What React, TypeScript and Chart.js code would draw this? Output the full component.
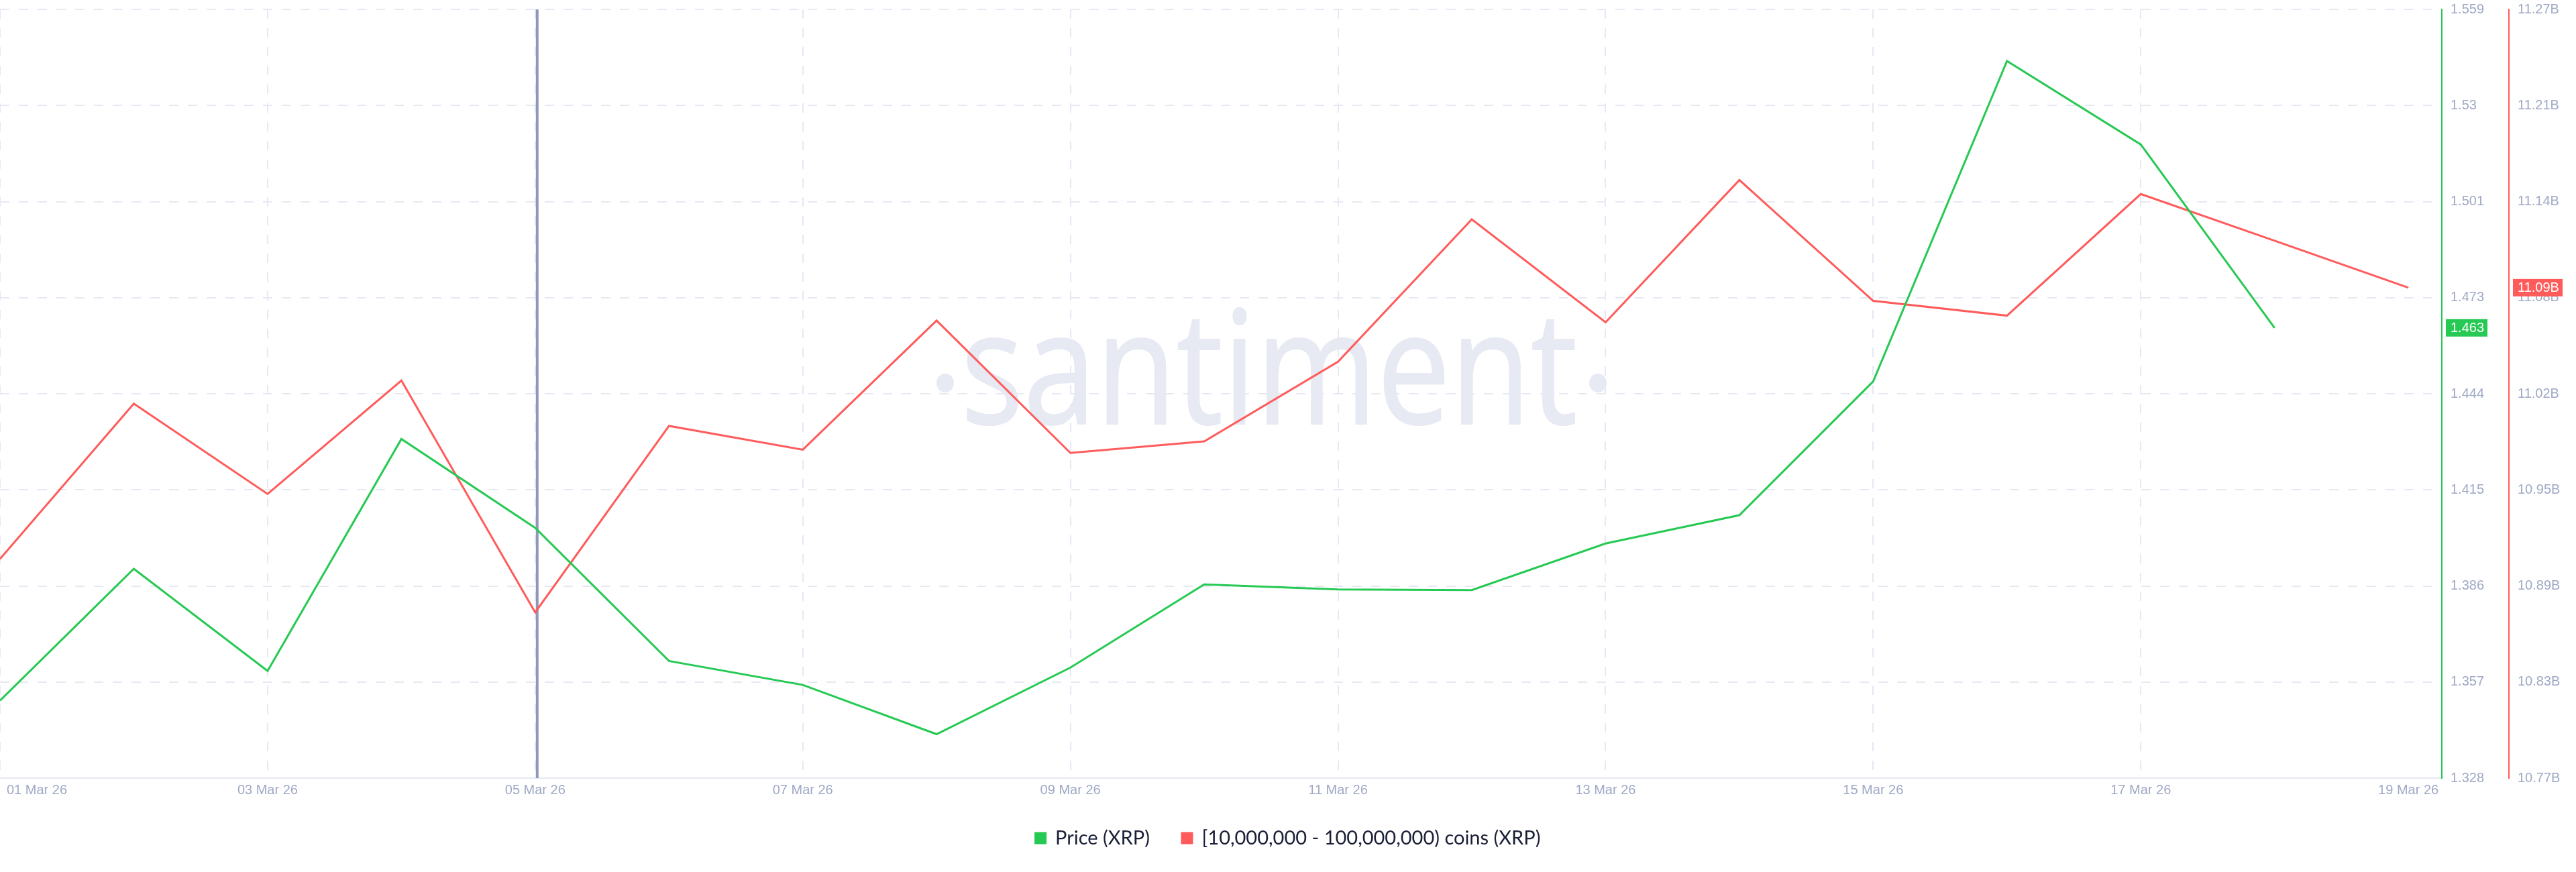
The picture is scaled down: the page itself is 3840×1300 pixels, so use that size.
import { useEffect, useRef } from "react";
import { Chart, registerables } from "chart.js";

Chart.register(...registerables);

const priceValues = [
  1.3513, 1.3909, 1.3602, 1.4299, 1.4032, 1.3632, 1.356, 1.3412, 1.3612, 1.3862, 1.3847, 1.3845, 1.3985, 1.407,
  1.4472, 1.5435, 1.5184, 1.4633,
];
const holdersValues = [
  10.9125, 11.0136, 10.9548, 11.0286, 10.8778, 10.9991, 10.9836, 11.0676, 10.9815, 10.989, 11.0408, 11.1334, 11.0665,
  11.159, 11.0804, 11.0708, 11.1499, 11.1195, 11.089,
];
const dateLabels = [
  "01 Mar 26", "03 Mar 26", "05 Mar 26", "07 Mar 26", "09 Mar 26", "11 Mar 26", "13 Mar 26", "15 Mar 26", "17 Mar 26", "19 Mar 26",
];
const priceTicks = ["1.328", "1.357", "1.386", "1.415", "1.444", "1.473", "1.501", "1.53", "1.559"];
const holdersTicks = ["10.77B", "10.83B", "10.89B", "10.95B", "11.02B", "11.08B", "11.14B", "11.21B", "11.27B"];
const markerDay = 4.015;

const GREEN = "#26c953";
const RED = "#ff5b5b";
const GRID = "#e6e9f3";
const MUTED = "#9fa9c5";
const TICK_FONT = { family: "'Liberation Sans', Arial, sans-serif", size: 20 };

const decorations = {
  id: "decorations",
  beforeDraw(chart: any) {
    const { ctx } = chart;
    // watermark, squeezed like the logo
    ctx.save();
    ctx.fillStyle = "#e7e9f3";
    ctx.strokeStyle = "#e7e9f3";
    ctx.lineWidth = 2;
    ctx.beginPath();
    ctx.ellipse(1409, 571, 13, 14, 0, 0, Math.PI * 2);
    ctx.ellipse(2382, 571, 13, 14, 0, 0, Math.PI * 2);
    ctx.fill();
    ctx.font = "235px 'Open Sans'";
    ctx.textAlign = "center";
    ctx.textBaseline = "alphabetic";
    ctx.translate(1892, 632);
    ctx.scale(0.83, 1);
    ctx.fillText("santiment", 0, 0);
    ctx.strokeText("santiment", 0, 0);
    ctx.restore();
  },
  afterDraw(chart: any) {
    const { ctx, scales } = chart;
    ctx.save();
    ctx.font = "20px 'Liberation Sans'";
    ctx.textBaseline = "middle";

    // date labels, the first and last are kept inside the canvas edges
    ctx.fillStyle = MUTED;
    ctx.textAlign = "center";
    dateLabels.forEach((label, i) => {
      const x = Math.min(Math.max(scales.x.getPixelForValue(i * 2), 55), 3630);
      ctx.fillText(label, x, 1178);
    });

    // last value badges
    ctx.textAlign = "left";
    const badges = [
      { axis: scales.price, value: priceValues[priceValues.length - 1], text: "1.463", color: GREEN, w: 62 },
      { axis: scales.holders, value: holdersValues[holdersValues.length - 1], text: "11.09B", color: RED, w: 74 },
    ];
    for (const b of badges) {
      const y = b.axis.getPixelForValue(b.value);
      ctx.fillStyle = b.color;
      ctx.fillRect(b.axis.left + 6, y - 13, b.w, 26);
      ctx.fillStyle = "#fff";
      ctx.fillText(b.text, b.axis.left + 13, y + 1);
    }
    ctx.restore();
  },
};

export default function App() {
  const canvasRef = useRef<HTMLCanvasElement>(null);

  useEffect(() => {
    const chart = new Chart(canvasRef.current!, {
      type: "line",
      plugins: [decorations],
      data: {
        datasets: [
          {
            label: "Price (XRP)",
            data: priceValues.map((y, i) => ({ x: i, y })),
            borderColor: GREEN,
            backgroundColor: GREEN,
            borderWidth: 3,
            pointRadius: 0,
            tension: 0,
            yAxisID: "price",
          },
          {
            label: "[10,000,000 - 100,000,000) coins (XRP)",
            data: holdersValues.map((y, i) => ({ x: i, y })),
            borderColor: RED,
            backgroundColor: RED,
            borderWidth: 3,
            pointRadius: 0,
            tension: 0,
            yAxisID: "holders",
          },
          {
            label: "marker",
            data: [
              { x: markerDay, y: 1.328 },
              { x: markerDay, y: 1.559 },
            ],
            borderColor: "#8f98bb",
            borderWidth: 4,
            pointRadius: 0,
            yAxisID: "price",
          },
        ],
      },
      options: {
        responsive: false,
        animation: false,
        layout: { padding: { top: 14, left: 0, right: 0, bottom: 26 } },
        plugins: {
          tooltip: { enabled: false },
          legend: {
            position: "bottom",
            labels: {
              filter: (item: any) => item.text !== "marker",
              boxWidth: 15,
              boxHeight: 15,
              padding: 48,
              color: "#1a1f36",
              font: { family: "Lato", size: 29 },
            },
          },
        },
        scales: {
          x: {
            type: "linear",
            min: 0,
            max: 18.25,
            afterBuildTicks: (s: any) => {
              s.ticks = dateLabels.map((_, i) => ({ value: i * 2 }));
            },
            afterFit: (s: any) => {
              s.height = 27;
              s.paddingLeft = 0;
              s.paddingRight = 0;
            },
            ticks: { display: false, autoSkip: false, maxRotation: 0 },
            grid: {
              drawTicks: false,
              lineWidth: 2,
              color: (c: any) => (c.tick && c.tick.value < 18 ? GRID : "transparent"),
            },
            border: { color: GRID, width: 2, dash: [14, 14] },
          },
          price: {
            position: "right",
            min: 1.328,
            max: 1.559,
            afterFit: (s: any) => {
              s.width = 100;
              s.paddingTop = 0;
              s.paddingBottom = 0;
            },
            ticks: {
              count: 9,
              autoSkip: false,
              padding: 13,
              color: MUTED,
              font: TICK_FONT,
              callback: (_v: any, i: number) => priceTicks[i],
            },
            grid: { drawTicks: false, lineWidth: 2, color: GRID },
            border: { color: GREEN, width: 2, dash: [14, 14] },
          },
          holders: {
            position: "right",
            min: 10.77,
            max: 11.27,
            afterFit: (s: any) => {
              s.width = 100;
              s.paddingTop = 0;
              s.paddingBottom = 0;
            },
            ticks: {
              count: 9,
              autoSkip: false,
              padding: 13,
              color: MUTED,
              font: TICK_FONT,
              callback: (_v: any, i: number) => holdersTicks[i],
            },
            grid: { display: false, drawTicks: false },
            border: { color: RED, width: 2 },
          },
        },
      },
    } as any);
    return () => chart.destroy();
  }, []);

  return (
    <div style={{ position: "absolute", left: 0, top: 0, width: 3840, height: 1300, background: "#fff" }}>
      <canvas ref={canvasRef} width={3840} height={1300} style={{ display: "block" }} />
    </div>
  );
}
